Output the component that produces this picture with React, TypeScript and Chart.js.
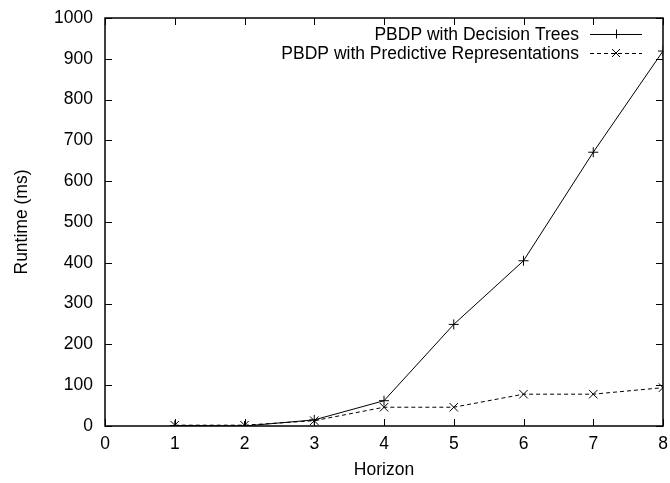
import React, { useEffect, useRef } from "react";
import { Chart, registerables } from "chart.js";

Chart.register(...registerables);

const horizons = [1, 2, 3, 4, 5, 6, 7, 8];
const decisionTrees = [1, 0, 15, 62, 249, 405, 671, 919];
const predictiveReps = [2, 2, 13, 46, 46, 78, 78, 94];
const seriesLabels = ["PBDP with Decision Trees", "PBDP with Predictive Representations"];
const xTitle = "Horizon";
const yTitle = "Runtime (ms)";

const FONT = "'Liberation Sans', Arial, Helvetica, sans-serif";
const FS = 17.5;

const framePlugin = {
  id: "gnuplotFrame",
  afterDatasetsDraw(chart: any) {
    const { ctx, chartArea } = chart;
    const { left, right, top, bottom } = chartArea;
    const xs = chart.scales.x;
    const ys = chart.scales.y;
    ctx.save();
    ctx.strokeStyle = "#000";
    ctx.lineWidth = 1.5;
    ctx.setLineDash([]);
    ctx.strokeRect(left, top, right - left, bottom - top);
    ctx.lineWidth = 1;
    const tl = 7;
    ctx.beginPath();
    for (let v = 0; v <= 8; v++) {
      const px = Math.round(xs.getPixelForValue(v)) + 0.5;
      ctx.moveTo(px, bottom);
      ctx.lineTo(px, bottom - tl);
      ctx.moveTo(px, top);
      ctx.lineTo(px, top + tl);
    }
    for (let v = 0; v <= 1000; v += 100) {
      const py = Math.round(ys.getPixelForValue(v)) + 0.5;
      ctx.moveTo(left, py);
      ctx.lineTo(left + tl, py);
      ctx.moveTo(right, py);
      ctx.lineTo(right - tl, py);
    }
    ctx.stroke();

    // legend
    ctx.font = `${FS}px ${FONT}`;
    ctx.fillStyle = "#000";
    ctx.textAlign = "right";
    ctx.textBaseline = "middle";
    const rows = [top + 16, top + 35];
    rows.forEach((y, i) => {
      ctx.fillText(seriesLabels[i], right - 84, y + 1);
      ctx.beginPath();
      ctx.lineWidth = 1;
      ctx.setLineDash(i === 1 ? [4, 3] : []);
      ctx.moveTo(right - 73, y + 0.5);
      ctx.lineTo(right - 21, y + 0.5);
      ctx.stroke();
      ctx.setLineDash([]);
      const mx = right - 47;
      ctx.beginPath();
      if (i === 0) {
        ctx.moveTo(mx - 4.5, y + 0.5);
        ctx.lineTo(mx + 4.5, y + 0.5);
        ctx.moveTo(mx + 0.5, y - 4.5);
        ctx.lineTo(mx + 0.5, y + 4.5);
      } else {
        ctx.moveTo(mx - 4, y - 4);
        ctx.lineTo(mx + 4, y + 4);
        ctx.moveTo(mx + 4, y - 4);
        ctx.lineTo(mx - 4, y + 4);
      }
      ctx.stroke();
    });
    ctx.restore();
  },
};

export default function App() {
  const ref = useRef<HTMLCanvasElement | null>(null);
  useEffect(() => {
    if (!ref.current) return;
    const chart = new Chart(ref.current, {
      type: "line",
      data: {
        datasets: [
          {
            label: seriesLabels[0],
            data: horizons.map((h, i) => ({ x: h, y: decisionTrees[i] })),
            borderColor: "#000",
            backgroundColor: "#000",
            borderWidth: 1,
            pointStyle: "cross",
            pointRadius: 5,
            pointBorderWidth: 1,
            pointBorderColor: "#000",
            tension: 0,
            fill: false,
          },
          {
            label: seriesLabels[1],
            data: horizons.map((h, i) => ({ x: h, y: predictiveReps[i] })),
            borderColor: "#000",
            backgroundColor: "#000",
            borderWidth: 1,
            borderDash: [4, 3],
            pointStyle: "crossRot",
            pointRadius: 6,
            pointBorderWidth: 1,
            pointBorderColor: "#000",
            tension: 0,
            fill: false,
          },
        ],
      },
      options: {
        responsive: false,
        animation: false,
        devicePixelRatio: 1,
        layout: { padding: { top: 18, right: 5, left: 0, bottom: 0 } },
        plugins: { legend: { display: false }, tooltip: { enabled: false } },
        scales: {
          x: {
            type: "linear",
            min: 0,
            max: 8,
            grid: { display: false, drawTicks: false },
            border: { display: false },
            ticks: {
              stepSize: 1,
              padding: 2,
              color: "#000",
              font: { family: FONT, size: FS, lineHeight: 1.83 },
              maxRotation: 0,
            },
            title: {
              display: true,
              text: xTitle,
              color: "#000",
              font: { family: FONT, size: FS },
              padding: { top: 0, bottom: 2 },
            },
            afterFit: (s: any) => {
              s.height = 57;
            },
          },
          y: {
            type: "linear",
            min: 0,
            max: 1000,
            grid: { display: false, drawTicks: false },
            border: { display: false },
            ticks: {
              stepSize: 100,
              padding: 12,
              color: "#000",
              font: { family: FONT, size: FS, lineHeight: 0.6 },
              callback: (v: any) => String(v),
            },
            title: {
              display: true,
              text: yTitle,
              color: "#000",
              font: { family: FONT, size: FS },
              padding: { top: 12, bottom: 0 },
            },
            afterFit: (s: any) => {
              s.width = 105;
            },
          },
        },
      },
      plugins: [framePlugin],
    });
    return () => chart.destroy();
  }, []);
  return (
    <div style={{ position: "absolute", left: 0, top: 0, width: 670, height: 483, background: "#fff" }}>
      <canvas ref={ref} width={670} height={483} />
    </div>
  );
}
